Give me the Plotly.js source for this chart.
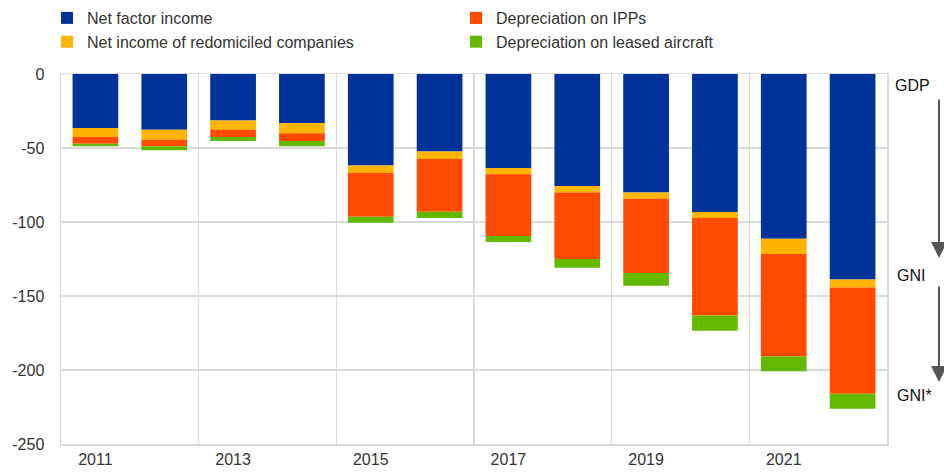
<!DOCTYPE html>
<html>
<head>
<meta charset="utf-8">
<script src="https://cdn.plot.ly/plotly-3.0.1.min.js"></script>
<style>
html,body{margin:0;padding:0;background:#fff;}
#chart{width:944px;height:473px;}
</style>
</head>
<body>
<div id="chart"></div>
<script>
var years = [2011, 2012, 2013, 2014, 2015, 2016, 2017, 2018, 2019, 2020, 2021, 2022];
var netFactorIncome = [-36.5, -37.6, -31.5, -33.1, -61.8, -52.3, -63.5, -75.7, -80.0, -93.2, -111.3, -138.8];
var redomiciled = [-6.1, -6.8, -6.1, -7.0, -5.1, -5.1, -4.3, -4.3, -4.3, -4.1, -10.3, -5.4];
var deprIPP = [-4.5, -4.5, -5.0, -5.2, -29.5, -35.6, -41.7, -45.0, -50.2, -65.8, -69.2, -71.8];
var deprAircraft = [-1.8, -2.7, -2.7, -3.6, -4.1, -4.3, -4.0, -5.9, -8.5, -10.3, -10.1, -10.1];

var xTickVals = [2011, 2013, 2015, 2017, 2019, 2021];
var xTickText = ['2011', '2013', '2015', '2017', '2019', '2021'];
var yTickVals = [0, -50, -100, -150, -200, -250];
var yTickText = ['0', '-50', '-100', '-150', '-200', '-250'];

function barTrace(name, y, color, rank) {
  return {
    type: 'bar', name: name, x: years, y: y,
    marker: {color: color, line: {width: 0}},
    legendrank: rank, hoverinfo: 'x+y+name'
  };
}

var data = [
  barTrace('Net factor income', netFactorIncome, '#003299', 1),
  barTrace('Net income of redomiciled companies', redomiciled, '#FFB400', 3),
  barTrace('Depreciation on IPPs', deprIPP, '#FF4B00', 2),
  barTrace('Depreciation on leased aircraft', deprAircraft, '#65B800', 4)
];

var grid = '#d9d9d9';
var layout = {
  width: 944, height: 473,
  margin: {l: 61, r: 57, t: 74, b: 29, autoexpand: false},
  paper_bgcolor: '#fff', plot_bgcolor: '#fff',
  font: {family: '"Liberation Sans", Arial, sans-serif', size: 16, color: '#333'},
  barmode: 'relative',
  bargap: 0.336,
  showlegend: true,
  legend: {
    orientation: 'h', xref: 'container', yref: 'container',
    x: 47/944, y: 1 - 1/473, xanchor: 'left', yanchor: 'top',
    entrywidth: 364, entrywidthmode: 'pixels',
    font: {size: 16, color: '#333'},
    bgcolor: 'rgba(0,0,0,0)', borderwidth: 0, traceorder: 'normal'
  },
  xaxis: {
    range: [2010.5, 2022.5],
    tickmode: 'array', tickvals: xTickVals, ticktext: xTickText,
    showgrid: false, zeroline: false,
    showline: true, mirror: true, linecolor: grid, linewidth: 1.5,
    ticks: '', tickfont: {size: 16, color: '#333'},
    minor: {tickmode: 'linear', tick0: 2010.5, dtick: 2, showgrid: true, gridcolor: grid, gridwidth: 1.5, ticks: ''}
  },
  yaxis: {
    range: [-250, 0],
    tickmode: 'array', tickvals: yTickVals, ticktext: yTickText,
    showgrid: true, gridcolor: grid, gridwidth: 1.5,
    zeroline: false,
    showline: true, mirror: true, linecolor: grid, linewidth: 1.5,
    ticks: '', ticklabelstandoff: 12, tickfont: {size: 16, color: '#333'}
  },
  annotations: [
    {xref: 'paper', yref: 'paper', x: (893-61)/826, y: 1-(85-74)/370, xanchor: 'left', yanchor: 'middle',
     text: 'GDP', showarrow: false, font: {size: 16, color: '#111'}},
    {xref: 'paper', yref: 'paper', x: (895-61)/826, y: 1-(275-74)/370, xanchor: 'left', yanchor: 'middle',
     text: 'GNI', showarrow: false, font: {size: 16, color: '#111'}},
    {xref: 'paper', yref: 'paper', x: (895-61)/826, y: 1-(395-74)/370, xanchor: 'left', yanchor: 'middle',
     text: 'GNI*', showarrow: false, font: {size: 16, color: '#111'}},
    {xref: 'paper', yref: 'paper', x: (939-61)/826, y: 1-(258-74)/370, text: '',
     showarrow: true, ax: 0, ay: -160, arrowhead: 2, arrowsize: 1.6, arrowwidth: 2, arrowcolor: '#555555', standoff: 0},
    {xref: 'paper', yref: 'paper', x: (939-61)/826, y: 1-(382-74)/370, text: '',
     showarrow: true, ax: 0, ay: -97, arrowhead: 2, arrowsize: 1.6, arrowwidth: 2, arrowcolor: '#555555', standoff: 0}
  ]
};

Plotly.newPlot('chart', data, layout, {displayModeBar: false, staticPlot: true});
</script>
</body>
</html>
